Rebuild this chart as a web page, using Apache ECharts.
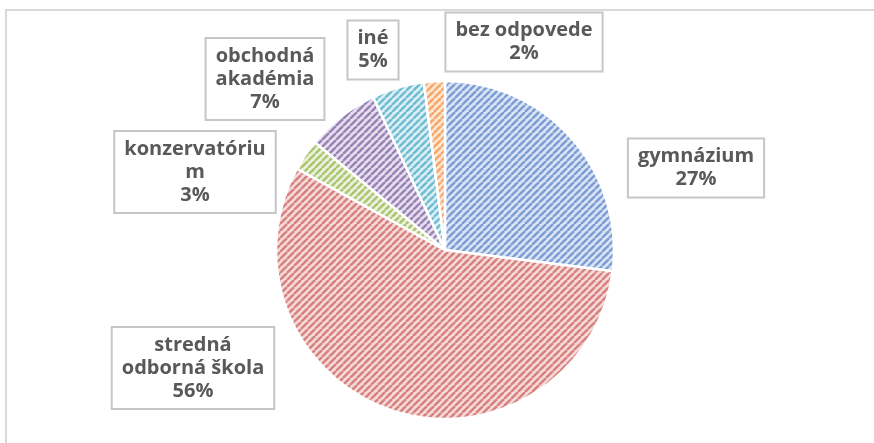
<!DOCTYPE html>
<html>
<head>
	<meta charset="UTF-8">
	<title>pie</title>
	<script src="https://cdn.jsdelivr.net/npm/echarts@6/dist/echarts.min.js"></script>
	<style>
		html, body { margin: 0; padding: 0; background: #fff; }
		#main { width: 874px; height: 443px; }
	</style>
</head>
<body>
<div id="main"></div>
<script type="text/javascript">

	// data
	var categories = ['gymnázium', 'stredná\nodborná škola', 'konzervatóriu\nm', 'obchodná\nakadémia', 'iné', 'bez odpovede'];
	var values = [27, 56, 3, 7, 5, 2];

	// stripe colour / background colour of each slice
	var stripeColors = ['#7c9dd4', '#d7817f', '#a9c66f', '#9882b6', '#6fbcd1', '#f8a565'];
	var bgColors = ['#dbe4f4', '#f5dad9', '#ebf1de', '#e6e0ee', '#dbeff5', '#fde8d8'];

	// label box centres (px)
	var labelPos = [[696, 168], [193, 368], [195, 172], [265, 79], [373, 50], [524, 42]];

	function hatch(stripe, bg) {
		var n = 7;
		var c = document.createElement('canvas');
		c.width = n; c.height = n;
		var ctx = c.getContext('2d');
		ctx.fillStyle = bg;
		ctx.fillRect(0, 0, n, n);
		ctx.strokeStyle = stripe;
		ctx.lineWidth = 2.4;
		[-n, 0, n].forEach(function (o) {
			ctx.beginPath();
			ctx.moveTo(o, n);
			ctx.lineTo(o + n, 0);
			ctx.stroke();
		});
		return { image: c, repeat: 'repeat' };
	}

	var seriesData = categories.map(function (name, i) {
		return {
			name: name,
			value: values[i],
			itemStyle: { color: hatch(stripeColors[i], bgColors[i]) }
		};
	});

	var myChart = echarts.init(document.getElementById('main'));

	var option = {
		animation: false,
		graphic: [{
			type: 'rect',
			shape: { x: 6, y: 10, width: 1000, height: 600 },
			style: { fill: 'none', stroke: '#d9d9d9', lineWidth: 2 },
			silent: true
		}],
		series: [{
			type: 'pie',
			center: [445, 250],
			radius: 169,
			startAngle: 90,
			clockwise: true,
			itemStyle: {
				borderColor: '#fff',
				borderWidth: 2.5
			},
			label: {
				show: true,
				formatter: function (p) { return p.name + '\n' + p.value + '%'; },
				fontFamily: 'Open Sans',
				fontWeight: 'bold',
				fontSize: 20,
				lineHeight: 23,
				color: '#595959',
				align: 'center',
				backgroundColor: '#fff',
				borderColor: '#c6c6c6',
				borderWidth: 2,
				padding: [6, 9, 5, 9]
			},
			labelLine: { show: false },
			labelLayout: function (params) {
				var p = labelPos[params.dataIndex];
				return { x: p[0], y: p[1], align: 'center', verticalAlign: 'middle' };
			},
			emphasis: { disabled: true },
			data: seriesData
		}]
	};
	myChart.setOption(option);
</script>
</body>
</html>
